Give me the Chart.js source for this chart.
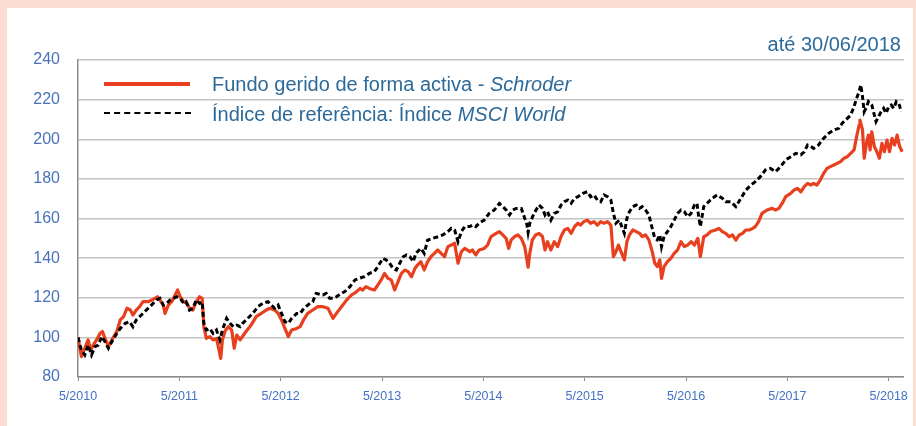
<!DOCTYPE html>
<html>
<head>
<meta charset="utf-8">
<script src="https://cdn.jsdelivr.net/npm/chart.js@4.4.1/dist/chart.umd.min.js"></script>
<style>
  html, body { margin: 0; padding: 0; }
  body { width: 916px; height: 426px; overflow: hidden; position: relative; background: #fadcd3; font-family: "Liberation Sans", Arial, sans-serif; }
  #panel { position: absolute; left: 7px; top: 8px; width: 906px; height: 418px; background: #ffffff; }
  #c { position: absolute; left: 0; top: 0; }
  .txt { position: absolute; color: #2d6a9a; font-size: 20px; white-space: nowrap; line-height: 20px; }
  .swatch { position: absolute; }
</style>
</head>
<body>
<div id="panel"></div>
<canvas id="c" width="916" height="426"></canvas>
<div class="swatch" style="left:104px; top:82px; width:86px; height:0; border-top:4px solid #e8401e;"></div>
<div class="txt" style="left:212px; top:74px;">Fundo gerido de forma activa - <i>Schroder</i></div>
<div class="swatch" style="left:104px; top:112px; width:87px; height:0; border-top:2px dashed #000;"></div>
<div class="txt" style="left:212px; top:104px;">Índice de referência: Índice <i>MSCI World</i></div>
<div class="txt" style="right:15px; top:34px;">até 30/06/2018</div>
<script>
// x values are months since 5/2010
const tickMonths = [0, 12, 24, 36, 48, 60, 72, 84, 96];
const tickLabels = ["5/2010", "5/2011", "5/2012", "5/2013", "5/2014", "5/2015", "5/2016", "5/2017", "5/2018"];

const fundMonths = [0.0,0.4,0.8,1.2,1.5,1.8,2.2,2.6,2.9,3.2,3.6,4.0,4.6,5.0,5.4,5.8,6.2,6.5,6.9,7.3,7.7,8.3,8.9,9.4,9.7,10.1,10.3,10.7,11.1,11.5,11.8,12.1,12.5,12.9,13.2,13.6,14.0,14.4,14.7,14.9,15.2,15.6,16.0,16.4,16.7,16.9,17.1,17.4,17.8,18.2,18.5,18.8,19.2,19.6,19.9,20.5,21.1,21.7,22.3,22.7,23.3,23.7,24.1,24.5,24.9,25.3,25.9,26.3,26.7,27.2,27.8,28.4,29.0,29.6,30.2,30.6,31.2,31.8,32.4,33.0,33.4,33.7,34.1,34.5,35.1,35.5,35.9,36.3,36.7,37.1,37.5,37.9,38.3,38.7,39.1,39.5,39.9,40.2,40.6,41.0,41.4,41.8,42.2,42.6,43.0,43.4,43.8,44.2,44.6,45.0,45.4,45.8,46.4,46.7,47.1,47.5,48.1,48.5,48.9,49.5,49.9,50.3,50.7,51.0,51.3,51.7,52.1,52.5,52.9,53.1,53.3,53.5,53.8,54.2,54.6,55.0,55.3,55.6,56.0,56.4,56.8,57.2,57.6,58.0,58.4,58.8,59.2,59.5,59.9,60.3,60.7,61.1,61.5,61.9,62.3,62.7,63.1,63.4,63.7,64.0,64.3,64.7,65.0,65.3,65.7,66.1,66.5,66.8,67.2,67.6,68.0,68.3,68.6,68.9,69.1,69.4,69.8,70.2,70.6,71.0,71.4,71.8,72.2,72.6,73.0,73.4,73.7,74.1,74.5,74.9,75.5,75.9,76.3,76.7,77.1,77.5,77.9,78.3,78.7,79.1,79.5,79.9,80.2,80.6,81.0,81.6,82.2,82.6,83.0,83.4,83.8,84.4,84.8,85.2,85.6,86.0,86.4,86.8,87.1,87.5,87.9,88.3,88.7,89.1,89.5,89.9,90.3,90.7,91.1,91.5,91.9,92.2,92.5,92.6,92.9,93.1,93.4,93.6,93.8,94.0,94.3,94.6,94.9,95.2,95.5,95.8,96.1,96.4,96.7,97.0,97.3,97.6];
const fundValues = [100,90.3,94.5,98.7,93.6,96.1,98.7,102,103,99.5,95.3,98.7,103,108.8,110.5,114.7,113.8,111.3,113.8,115.5,118,118,119.2,120.5,118.9,116.3,112.1,116.3,118,121.4,123.9,120.5,118,117.2,114.7,113.8,118,120.5,119.7,105.4,99.5,100.4,98.7,99.5,93.6,89.4,98.7,103,105.4,103.7,94.5,101.2,98.7,101.2,103,106.2,110.5,112.1,113.8,114.7,113.8,112.1,108.8,104.5,100.4,103.7,104.5,105.4,108.8,112.1,113.8,115.5,115.5,114.7,109.6,112.1,115.5,118.8,121.4,123.1,124.7,123.9,125.6,124.7,123.9,126.4,129,132.3,129.8,129,123.9,128.1,132.3,134,133.2,130.6,134.8,136.5,138.2,134,138.2,140.7,142.4,144.1,142.4,140.7,145.8,146.6,147.5,137.4,143.3,144.9,143.3,144.1,141.6,144.1,144.9,146.6,150.8,152.5,153.4,151.7,150,144.9,149.2,150.9,151.7,150,145.8,140.7,135.4,142.4,149.2,151.7,152.5,150.9,144.1,148.3,144.1,148.3,145.8,150.9,154.2,155,152.5,155.9,157.6,156.7,158.4,159.2,157.6,158.4,156.7,158.4,157.6,158.4,156.7,140.7,143.3,146.6,143.3,139.1,148.3,151.7,154.2,153.4,152.5,150.9,151.7,149.2,143.3,137.4,135.7,139.1,129.8,135.7,138.2,139.9,142.4,144.1,148.3,145.8,146.6,148.3,146.6,150,140.7,150.8,151.7,153.4,154.2,155,153.4,152.5,150.8,151.7,149.1,151.7,152.5,154.2,154.2,155,155.9,158.4,162.6,164.3,165.1,164.3,165.1,167.7,171,172.7,174.4,175.2,173.5,176.1,177.7,176.9,177.7,176.9,179.4,182.8,185.3,186.2,187,187.8,188.7,190.4,191.2,192.9,194.6,201.3,207.2,209.7,204.7,190.4,198.8,202.1,194.6,203.8,196.3,193.7,190.4,197.9,193.7,199.6,193.7,200.5,197.1,202.1,196.3,193.7];

const indexMonths = [0.0,0.4,0.8,1.2,1.6,2.0,2.4,2.8,3.2,3.6,4.0,4.6,5.0,5.6,6.1,6.5,6.9,7.5,8.1,8.7,9.3,9.7,10.1,10.5,10.9,11.3,11.7,12.1,12.5,12.8,13.2,13.6,14.0,14.4,14.7,14.9,15.2,15.6,16.0,16.4,16.8,17.1,17.6,18.0,18.4,18.8,19.2,19.5,20.1,20.7,21.3,21.9,22.5,22.9,23.3,23.7,24.1,24.5,24.9,25.3,25.9,26.3,26.6,27.2,27.8,28.2,29.0,29.4,29.8,30.2,30.6,31.2,31.6,32.2,32.8,33.3,33.9,34.5,35.1,35.5,36.1,36.5,36.9,37.3,37.7,38.1,38.5,38.9,39.3,39.7,40.0,40.6,41.0,41.4,42.0,42.6,43.2,43.8,44.2,44.6,45.0,45.4,45.8,46.4,46.7,47.1,47.5,48.1,48.7,49.3,49.9,50.3,50.7,51.1,51.5,51.9,52.5,52.9,53.1,53.3,53.5,54.0,54.6,55.0,55.3,55.6,56.0,56.4,56.8,57.2,57.6,58.0,58.4,58.8,59.2,59.8,60.3,60.7,61.1,61.5,61.9,62.3,62.7,63.1,63.4,63.7,64.1,64.4,64.7,65.0,65.3,65.7,66.1,66.5,66.8,67.2,67.6,68.0,68.3,68.6,68.9,69.1,69.4,69.8,70.2,70.6,71.0,71.4,71.8,72.2,72.6,73.0,73.3,73.5,73.7,74.1,74.5,75.1,75.7,76.3,76.7,77.3,77.9,78.5,79.1,79.7,80.2,80.8,81.4,82.0,82.6,83.2,83.8,84.4,85.0,85.6,86.0,86.4,86.8,87.1,87.7,88.1,88.5,88.9,89.5,90.1,90.5,90.9,91.5,91.9,92.2,92.5,92.7,92.9,93.1,93.4,93.6,94.0,94.2,94.5,94.8,95.1,95.4,95.7,96.0,96.3,96.6,96.9,97.2,97.5];
const indexValues = [100,93.6,91.1,96.1,91.1,95.3,96.1,100.4,97.8,94.5,97.8,102,104.5,107.1,107.9,105.4,108.8,111.3,113.8,116.3,118.9,119.7,116.3,117.2,118.9,119.7,120.5,119.7,117.2,118,113.8,114.7,118.9,117.2,118,107.1,103.7,104.5,102,103.7,98.7,103.7,109.6,107.1,105.4,106.2,105.4,107.1,109.6,112.1,115.5,117.2,118,116.3,114.7,116.3,112.1,107.9,107.1,109.6,112.1,112.1,113.8,116.3,118,122.2,121.4,122.2,119.7,119.7,120.5,122.2,123.1,125.6,129,129.8,130.6,132.3,133.2,135.7,139.9,139.1,137.4,134.8,134,137.4,140.7,141.6,140.7,138.2,142.4,144.9,142.4,149.1,150,150.8,151.7,153.4,155,154.2,148.3,153.4,155.9,155.9,156.7,155.9,157.6,159.2,162.6,164.3,167.6,166,164.3,161.8,164.3,165.1,165.1,160.1,158.4,152.9,157.6,162.6,166.8,165.1,161.8,163.4,159.2,162.6,163.4,166.8,168.5,169.3,167.7,170.2,171,172.7,173.5,171,171.9,169.3,168.5,171.9,171,169.3,162.6,157.6,159.2,155.9,152.5,160.1,163.4,166,166.8,165.1,166,164.3,161.8,155,150,149.2,151.7,145.8,150.9,153.4,155.9,159.2,162.6,164.3,163.4,160.9,162.6,166.8,167.7,160.9,155.9,166,167.7,170.2,171.9,170.2,168.5,168.5,166,170.2,174.4,176.9,178.6,181.1,184.5,185.3,183.6,186.2,189.5,191.2,192.9,192.1,193.7,197.1,196.3,195.4,197.1,199.6,201.3,203,204.7,205.5,208.1,209.7,212.2,216.5,220.7,224,227.4,221.5,213.9,216.5,219,217.3,213.9,208.9,211.4,213.9,215.6,213.1,216.5,217.3,215.6,219,218.1,213.9];

const yMin = 80, yMax = 240, yStep = 20;
const xMax = 97.8;

const toPoints = (xs, ys) => xs.map((x, i) => ({ x: x, y: ys[i] }));

new Chart(document.getElementById('c'), {
  type: 'line',
  data: {
    datasets: [
      {
        label: 'Índice de referência: Índice MSCI World',
        data: toPoints(indexMonths, indexValues),
        borderColor: '#000000',
        borderWidth: 3,
        borderDash: [5, 3],
        pointRadius: 0,
        tension: 0,
        fill: false
      },
      {
        label: 'Fundo gerido de forma activa - Schroder',
        data: toPoints(fundMonths, fundValues),
        borderColor: '#e8401e',
        borderWidth: 3.2,
        pointRadius: 0,
        tension: 0,
        borderJoinStyle: 'round',
        fill: false
      }
    ]
  },
  options: {
    responsive: false,
    animation: false,
    layout: { padding: { top: 60, right: 11, bottom: 0, left: 0 } },
    plugins: { legend: { display: false }, tooltip: { enabled: false } },
    scales: {
      x: {
        type: 'linear',
        min: 0,
        max: xMax,
        afterFit: s => { s.height = 49; },
        afterBuildTicks: s => { s.ticks = tickMonths.map(v => ({ value: v })); },
        grid: { drawOnChartArea: false, drawTicks: true, tickLength: 4, color: '#8c8c8c', lineWidth: 1 },
        border: { display: true, color: '#8c8c8c', width: 1.5 },
        ticks: {
          autoSkip: false,
          maxRotation: 0,
          padding: 8,
          color: '#4472c4',
          font: { family: 'Liberation Sans', size: 12.5 },
          callback: (v) => { const i = tickMonths.indexOf(v); return i >= 0 ? tickLabels[i] : ''; }
        }
      },
      y: {
        min: yMin,
        max: yMax,
        afterFit: s => { s.width = 78; },
        grid: { drawTicks: false, color: '#c4c4c4', lineWidth: 1.5 },
        border: { display: true, color: '#8c8c8c', width: 1.5 },
        ticks: {
          stepSize: yStep,
          padding: 18,
          color: '#4a72ba',
          font: { family: 'Liberation Sans', size: 16 }
        }
      }
    }
  }
});
</script>
</body>
</html>
